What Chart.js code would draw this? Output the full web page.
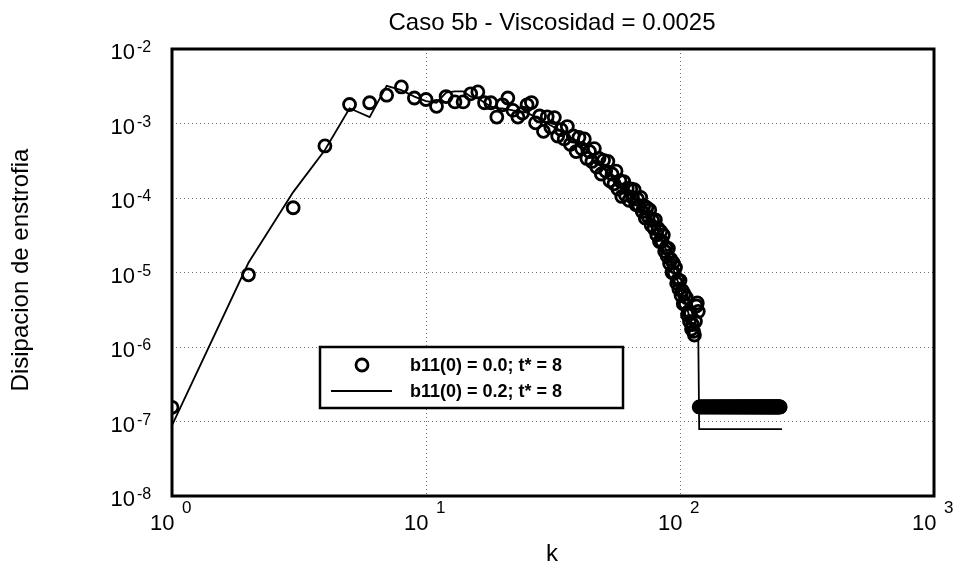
<!DOCTYPE html>
<html>
<head>
<meta charset="utf-8">
<script src="https://cdn.jsdelivr.net/npm/chart.js@4.4.1/dist/chart.umd.min.js"></script>
<style>
  html, body { margin: 0; padding: 0; background: #fff; }
  #wrap { width: 959px; height: 563px; }
</style>
</head>
<body>
<div id="wrap"><canvas id="chart" width="959" height="563"></canvas></div>
<script>
  "use strict";

  // Series "b11(0) = 0.0; t* = 8" (open circles), one value per integer k starting at k = 1
  const CIRCLE_VALUES = [
    1.55e-7, 9.3e-6, 7.4e-5, 5.0e-4, 1.8e-3, 1.9e-3, 2.4e-3, 3.1e-3, 2.2e-3, 2.1e-3,
    1.7e-3, 2.3e-3, 1.95e-3, 1.95e-3, 2.5e-3, 2.65e-3, 1.9e-3, 1.9e-3, 1.22e-3, 1.78e-3,
    2.2e-3, 1.5e-3, 1.22e-3, 1.38e-3, 1.78e-3, 1.91e-3, 1.02e-3, 1.26e-3, 7.85e-4, 1.23e-3,
    8.9e-4, 1.20e-3, 6.8e-4, 8.3e-4, 6.2e-4, 9.1e-4, 5.25e-4, 6.8e-4, 4.2e-4, 6.5e-4,
    4.6e-4, 6.2e-4, 3.4e-4, 4.2e-4, 3.1e-4, 4.6e-4, 2.6e-4, 3.4e-4, 2.1e-4, 3.2e-4,
    2.3e-4, 3.1e-4, 1.70e-4, 2.1e-4, 1.55e-4, 2.3e-4, 1.32e-4, 1.70e-4, 1.05e-4, 1.66e-4,
    1.10e-4, 1.35e-4, 9.3e-5, 1.32e-4, 1.02e-4, 1.29e-4, 8.2e-5, 9.7e-5, 7.8e-5, 1.02e-4,
    6.6e-5, 7.9e-5, 5.4e-5, 7.4e-5, 5.6e-5, 6.9e-5, 4.3e-5, 5.0e-5, 3.9e-5, 5.1e-5,
    3.2e-5, 3.9e-5, 2.6e-5, 3.55e-5, 2.6e-5, 3.2e-5, 1.93e-5, 2.15e-5, 1.66e-5, 2.1e-5,
    1.32e-5, 1.51e-5, 1.0e-5, 1.35e-5, 9.8e-6, 1.17e-5, 7.2e-6, 8.0e-6, 6.0e-6, 7.8e-6,
    4.9e-6, 5.75e-6, 3.8e-6, 5.1e-6, 3.8e-6, 4.6e-6, 2.7e-6, 3.0e-6, 2.2e-6, 2.8e-6,
    1.74e-6, 2.0e-6, 1.62e-6, 1.45e-6, 2.2e-6, 3.55e-6, 3.9e-6, 3.0e-6,
    // k = 119 .. 248 : flat floor
    1.57e-7, 1.57e-7, 1.57e-7, 1.57e-7, 1.57e-7, 1.57e-7, 1.57e-7, 1.57e-7, 1.57e-7, 1.57e-7,
    1.57e-7, 1.57e-7, 1.57e-7, 1.57e-7, 1.57e-7, 1.57e-7, 1.57e-7, 1.57e-7, 1.57e-7, 1.57e-7,
    1.57e-7, 1.57e-7, 1.57e-7, 1.57e-7, 1.57e-7, 1.57e-7, 1.57e-7, 1.57e-7, 1.57e-7, 1.57e-7,
    1.57e-7, 1.57e-7, 1.57e-7, 1.57e-7, 1.57e-7, 1.57e-7, 1.57e-7, 1.57e-7, 1.57e-7, 1.57e-7,
    1.57e-7, 1.57e-7, 1.57e-7, 1.57e-7, 1.57e-7, 1.57e-7, 1.57e-7, 1.57e-7, 1.57e-7, 1.57e-7,
    1.57e-7, 1.57e-7, 1.57e-7, 1.57e-7, 1.57e-7, 1.57e-7, 1.57e-7, 1.57e-7, 1.57e-7, 1.57e-7,
    1.57e-7, 1.57e-7, 1.57e-7, 1.57e-7, 1.57e-7, 1.57e-7, 1.57e-7, 1.57e-7, 1.57e-7, 1.57e-7,
    1.57e-7, 1.57e-7, 1.57e-7, 1.57e-7, 1.57e-7, 1.57e-7, 1.57e-7, 1.57e-7, 1.57e-7, 1.57e-7,
    1.57e-7, 1.57e-7, 1.57e-7, 1.57e-7, 1.57e-7, 1.57e-7, 1.57e-7, 1.57e-7, 1.57e-7, 1.57e-7,
    1.57e-7, 1.57e-7, 1.57e-7, 1.57e-7, 1.57e-7, 1.57e-7, 1.57e-7, 1.57e-7, 1.57e-7, 1.57e-7,
    1.57e-7, 1.57e-7, 1.57e-7, 1.57e-7, 1.57e-7, 1.57e-7, 1.57e-7, 1.57e-7, 1.57e-7, 1.57e-7,
    1.57e-7, 1.57e-7, 1.57e-7, 1.57e-7, 1.57e-7, 1.57e-7, 1.57e-7, 1.57e-7, 1.57e-7, 1.57e-7,
    1.57e-7, 1.57e-7, 1.57e-7, 1.57e-7, 1.57e-7, 1.57e-7, 1.57e-7, 1.57e-7, 1.57e-7, 1.57e-7
  ];

  // Series "b11(0) = 0.2; t* = 8" (solid line)
  const LINE_K = [
    1, 2, 3, 4, 5, 6, 7, 8, 9, 10, 11, 12, 13, 14, 15, 16, 17, 18, 19, 20,
    22, 25, 30, 35, 40, 45, 50, 55, 60, 65, 70, 75, 80, 85, 90, 95, 100, 105, 110, 115,
    118, 119, 252
  ];
  const LINE_VALUES = [
    8.9e-8, 1.35e-5, 1.2e-4, 4.4e-4, 1.6e-3, 1.22e-3, 3.2e-3, 2.8e-3, 2.3e-3, 2.0e-3,
    1.9e-3, 2.6e-3, 2.7e-3, 2.7e-3, 2.3e-3, 2.2e-3, 1.9e-3, 1.7e-3, 1.6e-3, 1.6e-3,
    1.5e-3, 1.4e-3, 1.0e-3, 7.5e-4, 5.3e-4, 3.8e-4, 2.6e-4, 1.8e-4, 1.35e-4, 1.05e-4,
    8.2e-5, 5.7e-5, 4.1e-5, 2.75e-5, 1.7e-5, 1.02e-5, 6.3e-6, 3.9e-6, 2.3e-6, 1.7e-6,
    1.5e-6, 7.9e-8, 7.9e-8
  ];

  const X_TICKS = [1, 10, 100, 1000];
  const X_TICK_EXPONENTS = ["0", "1", "2", "3"];
  const Y_TICKS = [1e-8, 1e-7, 1e-6, 1e-5, 1e-4, 1e-3, 1e-2];
  const Y_TICK_EXPONENTS = ["-8", "-7", "-6", "-5", "-4", "-3", "-2"];

  const TITLE = "Caso 5b - Viscosidad = 0.0025";
  const X_TITLE = "k";
  const Y_TITLE = "Disipacion de enstrofia";
  const LEGEND_LABELS = ["b11(0) = 0.0; t* = 8", "b11(0) = 0.2; t* = 8"];

  const FONT = '"Liberation Sans", Arial, Helvetica, sans-serif';

  // text, frame and inset legend drawn on the canvas the way the original plot has them
  const paperPlugin = {
    id: "paper",
    afterDraw(chart) {
      const ctx = chart.ctx;
      const a = chart.chartArea;
      const xs = chart.scales.x;
      const ys = chart.scales.y;
      ctx.save();

      ctx.strokeStyle = "#000";
      ctx.lineWidth = 3;
      ctx.strokeRect(a.left, a.top, a.right - a.left, a.bottom - a.top);

      ctx.fillStyle = "#000";
      ctx.textBaseline = "alphabetic";

      // y tick labels: 10 with superscript exponent
      Y_TICKS.forEach((v, i) => {
        const y = ys.getPixelForValue(v);
        ctx.font = "22px " + FONT;
        ctx.textAlign = "right";
        ctx.fillText("10", a.left - 37, y + 10);
        ctx.font = "16px " + FONT;
        ctx.textAlign = "left";
        ctx.fillText(Y_TICK_EXPONENTS[i], a.left - 35, y + 3);
      });

      // x tick labels
      X_TICKS.forEach((v, i) => {
        const x = xs.getPixelForValue(v);
        ctx.font = "22px " + FONT;
        ctx.textAlign = "left";
        ctx.fillText("10", x - 22, a.bottom + 34);
        ctx.font = "17px " + FONT;
        ctx.fillText(X_TICK_EXPONENTS[i], x + 10, a.bottom + 17);
      });

      // titles
      ctx.font = "24px " + FONT;
      ctx.textAlign = "center";
      ctx.fillText(TITLE, 552, 30);
      ctx.fillText(X_TITLE, 552, 561);
      ctx.save();
      ctx.translate(28, 270);
      ctx.rotate(-Math.PI / 2);
      ctx.fillText(Y_TITLE, 0, 0);
      ctx.restore();

      // inset legend
      const lx = a.left + 148, ly = ys.getPixelForValue(1e-6);
      const lw = 303, lh = 61;
      ctx.fillStyle = "#fff";
      ctx.fillRect(lx, ly, lw, lh);
      ctx.lineWidth = 2.5;
      ctx.strokeStyle = "#000";
      ctx.strokeRect(lx, ly, lw, lh);

      ctx.lineWidth = 2.8;
      ctx.beginPath();
      ctx.arc(lx + 42, ly + 18, 6, 0, Math.PI * 2);
      ctx.stroke();
      ctx.lineWidth = 1.8;
      ctx.beginPath();
      ctx.moveTo(lx + 11, ly + 44);
      ctx.lineTo(lx + 72, ly + 44);
      ctx.stroke();

      ctx.fillStyle = "#000";
      ctx.font = "bold 18px " + FONT;
      ctx.textAlign = "left";
      ctx.fillText(LEGEND_LABELS[0], lx + 90, ly + 24);
      ctx.fillText(LEGEND_LABELS[1], lx + 90, ly + 50);

      ctx.restore();
    }
  };

  const circlePoints = CIRCLE_VALUES.map((v, i) => ({ x: i + 1, y: v }));
  const linePoints = LINE_K.map((k, i) => ({ x: k, y: LINE_VALUES[i] }));

  const gridOpts = {
    color: (c) => (c.index === 0 || c.index === c.scale.ticks.length - 1 ? "rgba(0,0,0,0)" : "#6e6e6e"),
    lineWidth: 1,
    drawTicks: false,
  };

  new Chart(document.getElementById("chart"), {
    type: "scatter",
    data: {
      datasets: [
        {
          label: LEGEND_LABELS[0],
          data: circlePoints,
          showLine: false,
          pointRadius: 6,
          pointBorderWidth: 2.8,
          pointBorderColor: "#000",
          pointBackgroundColor: "rgba(0,0,0,0)",
        },
        {
          label: LEGEND_LABELS[1],
          data: linePoints,
          showLine: true,
          borderColor: "#000",
          borderWidth: 1.8,
          pointRadius: 0,
          tension: 0,
        },
      ],
    },
    options: {
      responsive: false,
      animation: false,
      devicePixelRatio: 1,
      layout: { padding: { left: 172, top: 49, right: 25, bottom: 67 } },
      plugins: {
        legend: { display: false },
        title: { display: false },
        tooltip: { enabled: false },
      },
      scales: {
        x: {
          type: "logarithmic",
          min: 1,
          max: 1000,
          afterBuildTicks: (s) => { s.ticks = X_TICKS.map((v) => ({ value: v })); },
          afterFit: (s) => { s.height = 0; },
          ticks: { display: false },
          grid: gridOpts,
          border: { display: false, dash: [1, 3] },
        },
        y: {
          type: "logarithmic",
          min: 1e-8,
          max: 1e-2,
          afterBuildTicks: (s) => { s.ticks = Y_TICKS.map((v) => ({ value: v })); },
          afterFit: (s) => { s.width = 0; },
          ticks: { display: false },
          grid: gridOpts,
          border: { display: false, dash: [1, 3] },
        },
      },
    },
    plugins: [paperPlugin],
  });
</script>
</body>
</html>
